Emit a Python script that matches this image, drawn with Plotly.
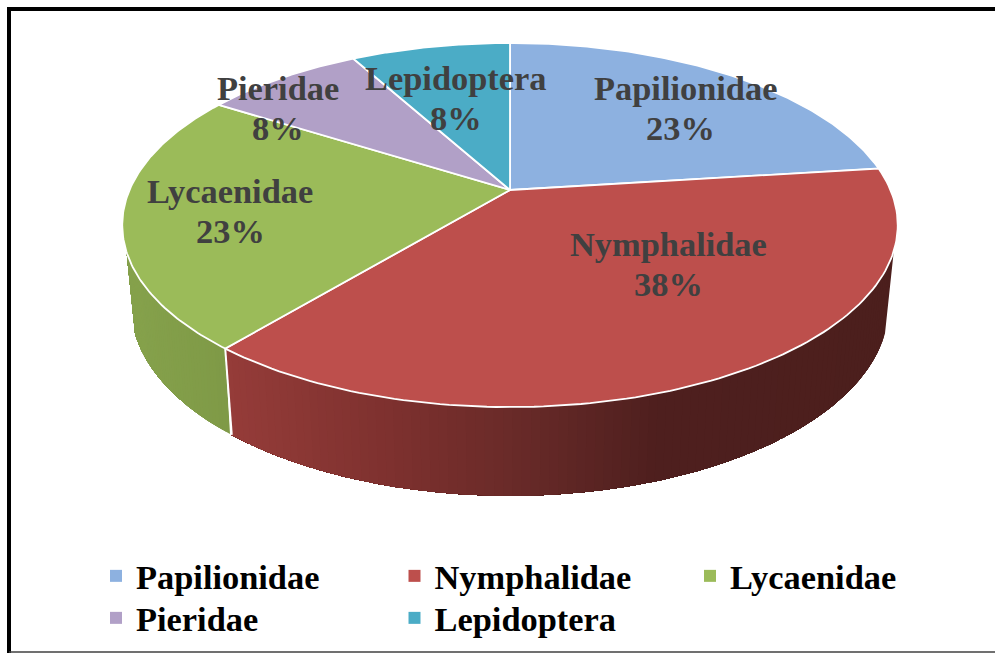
import numpy as np
import plotly.graph_objects as go

# ---- data ----
categories = ["Papilionidae", "Nymphalidae", "Lycaenidae", "Pieridae", "Lepidoptera"]
values = [23, 38, 23, 8, 8]

# ---- style ----
colors = ["#8db1e0", "#bd4f4c", "#9bbb59", "#b1a0c7", "#4bacc6"]
wall_stops = {
    1: [(225, (0x95, 0x3c, 0x39)), (400, (0x7c, 0x30, 0x2e)), (520, (0x68, 0x2a, 0x28)), (660, (0x4e, 0x1f, 0x1e)), (900, (0x4c, 0x1f, 0x1d))],
    2: [(120, (0x86, 0xa2, 0x4c)), (235, (0x7e, 0x99, 0x46))],
}
label_xy = {"Papilionidae": (685, 88), "Nymphalidae": (668, 244), "Lycaenidae": (230, 191),
            "Pieridae": (278, 88), "Lepidoptera": (456, 78)}
pct_dx = {"Papilionidae": -5}
pct_offset = 39.5
FONT = "Liberation Serif"
LABEL_SIZE = 34.4

# perspective projection of the pie disc
CX, CY, A, B, K = 510.0, 190.0, 380.5, 175.3, 0.1925
SX, SY, Y_LOW = 0.977, 1.04, 270.0
WALL_TOP_Y = 250


def rim(theta):
    u, v = np.sin(theta), np.cos(theta)
    w = 1 + K * v
    return CX + A * u / w, CY - B * v / w


def low(x, y):
    return CX + SX * (x - CX), Y_LOW + SY * (y - CY)


def wall_color(stops, x):
    xs = [s[0] for s in stops]
    rgb = [np.interp(x, xs, [s[1][i] for s in stops]) for i in range(3)]
    return "rgb(%d,%d,%d)" % tuple(int(round(c)) for c in rgb)


fig = go.Figure()
fractions = np.array(values, dtype=float) / sum(values)
edges = np.concatenate([[0], np.cumsum(fractions)]) * 2 * np.pi

# side walls: each polygon runs to the end of the wall and is overpainted by the next one
for i, stops in wall_stops.items():
    th = np.linspace(edges[i], edges[i + 1], 241)
    x, y = rim(th)
    keep = y >= WALL_TOP_Y
    x, y = x[keep], y[keep]
    step = 2
    for j in range(0, len(x) - 1, step):
        xt, yt = x[j:], y[j:]
        xb, yb = low(xt, yt)
        c = wall_color(stops, xt[:step + 1].mean())
        fig.add_trace(go.Scatter(x=np.concatenate([xt[::2], xb[::-2]]), y=np.concatenate([yt[::2], yb[::-2]]),
                                 mode="none", fill="toself", fillcolor=c,
                                 hoverinfo="skip", showlegend=False))

# white seam between the two walls
xs, ys = rim(edges[2])
xl, yl = low(xs, ys)
fig.add_trace(go.Scatter(x=[xs, xl], y=[ys, yl], mode="lines", line=dict(color="white", width=2),
                         hoverinfo="skip", showlegend=False))

# top faces
for i, name in enumerate(categories):
    th = np.linspace(edges[i], edges[i + 1], 120)
    x, y = rim(th)
    fig.add_trace(go.Scatter(x=np.concatenate([[CX], x, [CX]]), y=np.concatenate([[CY], y, [CY]]),
                             mode="lines", fill="toself", fillcolor=colors[i],
                             line=dict(color="white", width=1.8),
                             hoverinfo="skip", showlegend=False))

# legend entries: three on the first row, two on the second
legend_of = ["legend", "legend", "legend3", "legend2", "legend2"]
for i, name in enumerate(categories):
    fig.add_trace(go.Scatter(x=[None], y=[None], mode="markers", name=name,
                             legend=legend_of[i],
                             marker=dict(symbol="square", size=12, color=colors[i])))

# data labels
for i, name in enumerate(categories):
    lx, ly = label_xy[name]
    for text, xx, yy in ((name, lx, ly),
                         (f"{fractions[i] * 100:.0f}%", lx + pct_dx.get(name, 0), ly + pct_offset)):
        fig.add_annotation(x=xx, y=yy, text=text, showarrow=False, xanchor="center", yanchor="middle",
                           font=dict(family=FONT, size=LABEL_SIZE, color="#404040", weight="bold"))

legend_style = dict(orientation="h", xanchor="left", yanchor="top",
                    entrywidth=253.5, entrywidthmode="pixels", itemwidth=30, traceorder="normal",
                    bgcolor="rgba(0,0,0,0)", borderwidth=0,
                    font=dict(family=FONT, size=LABEL_SIZE, color="black", weight="bold"))

fig.update_layout(
    width=995, height=653, autosize=False,
    margin=dict(l=0, r=0, t=0, b=0, autoexpand=False),
    paper_bgcolor="white", plot_bgcolor="white",
    xaxis=dict(range=[0, 995], visible=False, fixedrange=True),
    yaxis=dict(range=[653, 0], visible=False, fixedrange=True),
    legend=dict(x=96 / 995, y=1 - 547 / 653, **legend_style),
    legend2=dict(x=96 / 995, y=1 - 589 / 653, **legend_style),
    legend3=dict(x=690 / 995, y=1 - 547 / 653, **legend_style),
    shapes=[
        dict(type="line", x0=9, x1=9, y0=7, y1=653, line=dict(color="black", width=4)),
        dict(type="line", x0=7, x1=995, y0=9, y1=9, line=dict(color="black", width=4)),
        dict(type="line", x0=9, x1=995, y0=652, y1=652, line=dict(color="#404040", width=1.5)),
    ],
)

fig.write_html("out.html", config={"displayModeBar": False},
               post_script="document.body.style.margin='0';document.body.style.overflow='hidden';")
